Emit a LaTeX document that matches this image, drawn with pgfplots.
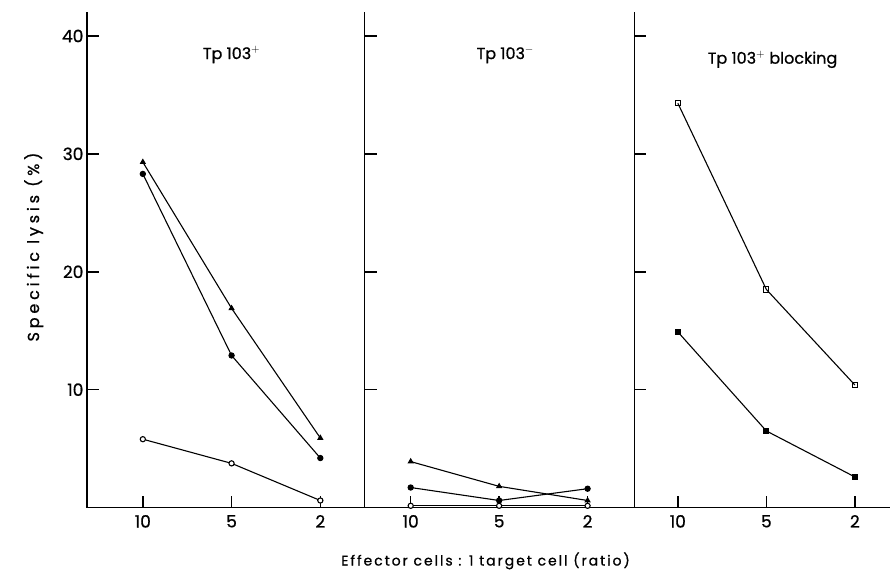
\documentclass[border=0pt]{standalone}
\usepackage{fontspec}
\setmainfont{Poppins}[FakeBold=0.8]
\newfontfamily\spaced{Poppins}[LetterSpace=14, FakeBold=0.8]
\newfontfamily\wide{Poppins}[LetterSpace=24, FakeBold=1.0]
\usepackage{pgfplots}
\pgfplotsset{compat=1.18}

\pgfplotsset{
  panel/.style={
    scale only axis,
    anchor=south west,
    height=495.6pt,
    ymin=0, ymax=42,
    axis x line=bottom, axis y line=left,
    axis line style={line width=1.5pt,-},
    tick align=inside,
    major tick length=12pt,
    tick style={line width=1.5pt,black},
    xtick={0,1,2}, xticklabels={10,5,2},
    ytick={10,20,30,40},
    /pgf/number format/assume math mode=true,
    ticklabel style={font=\fontsize{17}{18}\selectfont},
    xticklabel style={yshift=-4pt},
    clip=false,
    every axis plot/.append style={line width=1.1pt, black, mark size=2.6pt},
  },
}

\begin{document}
\begin{tikzpicture}[x=1pt,y=1pt]
\path (0,0) rectangle (891,570);

% Tp 103+
\begin{axis}[panel, at={(87pt,62pt)}, width=278pt, xmin=-0.63, xmax=2.5,
    ylabel={\wide\fontsize{16}{17}\selectfont Specific lysis (\%)},
    ylabel style={yshift=12pt, xshift=13pt}]
  \addplot[mark=triangle*] coordinates {(0,29.3) (1,16.9) (2,5.9)};
  \addplot[mark=*] coordinates {(0,28.3) (1,12.9) (2,4.2)};
  \addplot[mark=*, mark options={fill=white}] coordinates {(0,5.8) (1,3.75) (2,0.6)};
  \node[font=\fontsize{16}{17}\selectfont] at (axis cs:1,38.4) {Tp 103$^{+}$};
\end{axis}

% Tp 103-
\begin{axis}[panel, at={(365pt,62pt)}, width=270pt, xmin=-0.52, xmax=2.53,
    yticklabels={},
    xlabel={\spaced\fontsize{14}{15}\selectfont Effector cells : 1 target cell (ratio)},
    xlabel style={xshift=-14pt, yshift=-18pt}]
  \addplot[mark=triangle*] coordinates {(0,3.9) (1,1.8) (2,0.6)};
  \addplot[mark=*] coordinates {(0,1.7) (1,0.6) (2,1.6)};
  \addplot[mark=*, mark options={fill=white}] coordinates {(0,0.15) (1,0.15) (2,0.15)};
  \node[font=\fontsize{16}{17}\selectfont] at (axis cs:1.07,38.4) {Tp 103$^{-}$};
\end{axis}

% Tp 103+ blocking
\begin{axis}[panel, at={(635pt,62pt)}, width=256pt, xmin=-0.49, xmax=2.4,
    yticklabels={}]
  \addplot[mark=square, mark options={fill=white}] coordinates {(0,34.3) (1,18.5) (2,10.4)};
  \addplot[mark=square*] coordinates {(0,14.9) (1,6.5) (2,2.6)};
  \node[font=\fontsize{16}{17}\selectfont] at (axis cs:1.07,38.0) {Tp 103$^{+}$ blocking};
\end{axis}
\end{tikzpicture}
\end{document}
